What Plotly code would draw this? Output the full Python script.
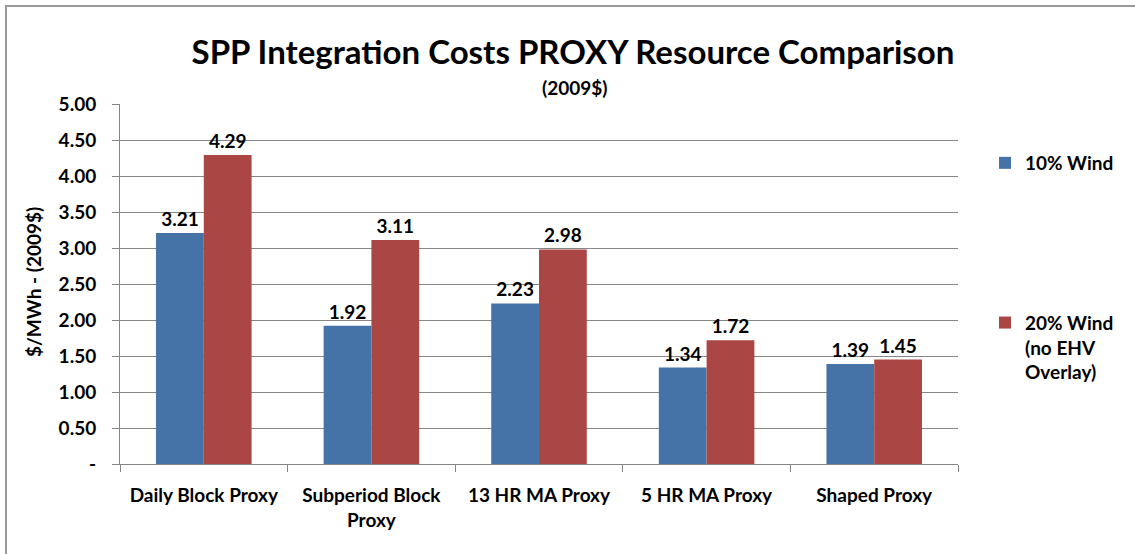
import plotly.graph_objects as go

categories = ["Daily Block Proxy", "Subperiod Block Proxy", "13 HR MA Proxy", "5 HR MA Proxy", "Shaped Proxy"]
tick_labels = ["Daily Block Proxy", "Subperiod Block<br>Proxy", "13 HR MA Proxy", "5 HR MA Proxy", "Shaped Proxy"]
wind10 = [3.21, 1.92, 2.23, 1.34, 1.39]
wind20 = [4.29, 3.11, 2.98, 1.72, 1.45]
series_names = ["10% Wind", "20% Wind<br>(no EHV<br>Overlay)"]
y_ticks = [0, 0.5, 1.0, 1.5, 2.0, 2.5, 3.0, 3.5, 4.0, 4.5, 5.0]
y_tick_text = ["-"] + [f"{v:.2f}" for v in y_ticks[1:]]

FONT = "Lato, 'Open Sans', sans-serif"
FS = 19
blue = "#4572A7"
red = "#AA4643"

fig = go.Figure()
for name, vals, col, grp in [(series_names[0], wind10, blue, "a"), (series_names[1], wind20, red, "b")]:
    fig.add_trace(go.Bar(
        x=categories, y=vals, name=name, marker_color=col, marker_line_width=0,
        text=[f"{v:.2f}" for v in vals], textposition="outside",
        textfont=dict(family=FONT, size=FS, color="black", weight="bold"),
        cliponaxis=False, legendgroup=grp,
    ))

L, R, T, B = 120, 177, 104, 90
W, H = 1135, 554
pw, ph = W - L - R, H - T - B

def px(x):
    return (x - L) / pw

def py(y):
    return (H - B - y) / ph

fig.update_layout(
    width=W, height=H,
    margin=dict(l=L, r=R, t=T, b=B),
    paper_bgcolor="white", plot_bgcolor="white",
    barmode="group", bargap=0.43, bargroupgap=0,
    font=dict(family=FONT, color="black"),
    title=dict(text="<b>SPP Integration Costs PROXY Resource Comparison</b>",
               x=573 / W, xanchor="center", y=1 - 52 / H, yanchor="middle",
               font=dict(family=FONT, size=33, color="black")),
    legend=dict(x=px(985), y=py(144), xanchor="left", yanchor="top",
                font=dict(family=FONT, size=FS, color="black", weight="bold"),
                tracegroupgap=132, valign="top", bgcolor="rgba(0,0,0,0)",
                itemwidth=30),
    showlegend=True,
)
fig.update_xaxes(
    tickvals=categories, ticktext=tick_labels,
    tickfont=dict(family=FONT, size=FS, color="black", weight="bold"),
    showline=True, linecolor="#868686", linewidth=1,
    ticks="outside", tickson="boundaries", ticklen=7, tickcolor="#868686",
    ticklabelstandoff=14,
    showgrid=False,
)
fig.update_yaxes(
    range=[0, 5], tickvals=y_ticks, ticktext=y_tick_text,
    tickfont=dict(family=FONT, size=FS, color="black", weight="bold"),
    showline=True, linecolor="#868686", linewidth=1,
    ticks="outside", ticklen=7, tickcolor="#868686",
    ticklabelstandoff=12,
    showgrid=True, gridcolor="#868686", gridwidth=1, zeroline=False,
)
fig.add_annotation(text="<b>(2009$)</b>", x=px(575), y=py(88), xref="paper", yref="paper",
                   xanchor="center", yanchor="middle",
                   showarrow=False, font=dict(family=FONT, size=FS, color="black"))
fig.add_annotation(text="<b>$/MWh - (2009$)</b>", x=px(33), y=py(282), xref="paper", yref="paper",
                   xanchor="center", yanchor="middle",
                   showarrow=False, textangle=-90, font=dict(family=FONT, size=FS, color="black"))
fig.add_shape(type="rect", xref="paper", yref="paper",
              x0=px(6), x1=px(1145), y0=py(565), y1=py(6),
              line=dict(color="#999999", width=2), layer="below")

fig.write_html("out.html", config={"displayModeBar": False},
               post_script="document.body.style.margin='0';")
